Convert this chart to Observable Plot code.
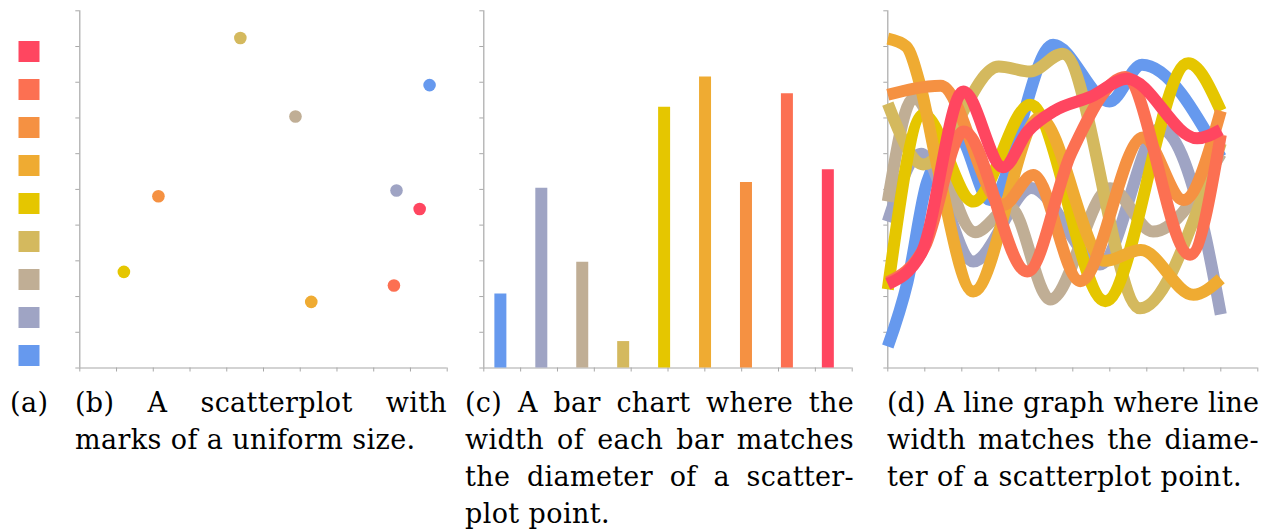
<!DOCTYPE html>
<html>
<head>
<meta charset="utf-8">
<script src="https://cdn.jsdelivr.net/npm/d3@7"></script>
<script src="https://cdn.jsdelivr.net/npm/@observablehq/plot@0.6"></script>
<style>
  body { margin: 0; background: #fff; }
  #fig { position: relative; width: 1274px; height: 529px; overflow: hidden; font-family: "DejaVu Serif", serif; }
  .panel { position: absolute; top: 0; }
  .cap { position: absolute; top: 384px; font-size: 27px; letter-spacing: 0.4px; line-height: 37px; color: #000; }
  .cap div { text-align: justify; text-align-last: justify; }
  .cap div.last { text-align-last: left; }
  .cap span.probe { white-space: nowrap; }
</style>
</head>
<body>
<div id="fig"></div>
<script>
// Categories, in drawing order (bottom of the legend first)
const categories = ["blue", "slate", "tan", "khaki", "yellow", "amber", "orange", "coral", "red"];
const colors = ["#6699ee", "#9fa4c4", "#c0ae95", "#d4b95e", "#e5c600", "#efab32", "#f59142", "#fc7052", "#ff4660"];

// (b) scatterplot positions
const scatterX = [9.52, 8.62, 5.87, 4.37, 1.20, 6.30, 2.14, 8.55, 9.25];
const scatterY = [7.92, 4.97, 7.04, 9.24, 2.69, 1.85, 4.81, 2.31, 4.45];

// (c) bar heights
const barValues = [2.07, 5.03, 2.96, 0.74, 7.30, 8.15, 5.19, 7.68, 5.55];

// (d) line series: [x, y] turning points of each curve
const lineBlue = [[0, 0.6], [0.53, 2.4], [1.06, 5.2], [1.9, 6.5], [2.76, 4.7], [4.47, 9.05], [5.99, 7.46], [6.87, 8.49], [9, 5.9]];
const lineSlate = [[0, 4.1], [0.9, 6.0], [2.31, 2.98], [3.88, 5.04], [5.73, 2.9], [7.36, 6.7], [8.54, 3.9], [9, 1.5]];
const lineTan = [[0, 4.66], [0.7, 7.55], [2.36, 3.8], [3.3, 4.5], [4.39, 1.92], [6.01, 5.03], [7.17, 3.82], [9, 6.0]];
const lineKhaki = [[0, 7.4], [0.96, 5.7], [3.0, 8.44], [3.85, 8.3], [4.73, 8.8], [6.82, 1.67], [8.54, 4.9], [9, 6.3]];
const lineYellow = [[0, 2.2], [0.96, 7.1], [2.31, 4.66], [3.85, 7.37], [5.88, 1.87], [8.12, 8.53], [9, 7.2]];
const lineAmber = [[0, 9.22], [0.5, 9.0], [0.88, 7.9], [1.35, 5.6], [2.31, 2.14], [4.1, 7.0], [5.87, 3.0], [6.84, 3.3], [8.26, 2.05], [9, 2.5]];
const lineOrange = [[0, 7.65], [1.43, 7.9], [3.12, 4.57], [3.93, 5.4], [5.2, 2.43], [6.9, 6.45], [7.99, 4.7], [9, 7.2]];
const lineCoral = [[0, 2.4], [1.0, 3.4], [2.05, 6.62], [3.77, 2.7], [4.95, 6.0], [6.42, 8.15], [8.17, 3.17], [9, 6.53]];
const lineRed = [[0, 2.35], [0.9, 3.2], [2.04, 7.74], [3.12, 5.62], [3.78, 6.62], [4.5, 7.2], [5.5, 7.6], [6.47, 8.1], [8.36, 6.43], [9, 6.67]];
const lineSeries = [lineBlue, lineSlate, lineTan, lineKhaki, lineYellow, lineAmber, lineOrange, lineCoral, lineRed];

// Axis ticks (unlabelled)
const axisTicks = [0, 1, 2, 3, 4, 5, 6, 7, 8, 9, 10];

// Captions, one entry per typeset line
const captionA = ["(a)"];
const captionB = ["(b) A scatterplot with", "marks of a uniform size."];
const captionC = ["(c) A bar chart where the", "width of each bar matches", "the diameter of a scatter-", "plot point."];
const captionD = ["(d) A line graph where line", "width matches the diame-", "ter of a scatterplot point."];

const fig = document.getElementById("fig");
const axisColor = "#a8a8a8";
const markSize = 12;
const color = {domain: categories, range: colors};

function place(node, left) {
  node.classList.add("panel");
  node.style.left = left + "px";
  fig.appendChild(node);
}

function axes() {
  return [
    Plot.ruleX([0], {stroke: axisColor, strokeWidth: 1.2}),
    Plot.ruleY([0], {stroke: axisColor, strokeWidth: 1.2}),
    Plot.axisX({ticks: axisTicks, tickFormat: () => "", tickSize: 4, stroke: axisColor, label: null}),
    Plot.axisY({ticks: axisTicks, tickFormat: () => "", tickSize: 4, stroke: axisColor, label: null})
  ];
}

const frame = {width: 400, height: 380, marginTop: 10.3, marginBottom: 12.5};

// (a) colour key
place(Plot.plot({
  width: 59, height: 380, marginLeft: 18, marginRight: 20, marginTop: 49, marginBottom: 23.7,
  y: {type: "point", domain: categories.slice().reverse(), padding: 0, axis: null},
  color,
  marks: [
    Plot.dot(categories, {y: d => d, fill: d => d, symbol: "square", r: 21 / Math.sqrt(Math.PI)})
  ]
}), 0);

// (b) scatterplot
const scatterData = categories.map((c, i) => ({c, x: scatterX[i], y: scatterY[i]}));
place(Plot.plot({
  ...frame, marginLeft: 20.3, marginRight: 12.3,
  x: {domain: [0, 10]}, y: {domain: [0, 10]}, color,
  marks: [
    ...axes(),
    Plot.dot(scatterData, {x: "x", y: "y", fill: "c", r: 6.3})
  ]
}), 59);

// (c) bar chart: fixed-width bars, one slot per category across the axis
const slot = 10 / categories.length;
const barData = categories.map((c, i) => ({c, x: (i + 0.405) * slot, v: barValues[i]}));
place(Plot.plot({
  ...frame, marginLeft: 19.3, marginRight: 12.3,
  x: {domain: [0, 10]}, y: {domain: [0, 10]}, color,
  marks: [
    ...axes(),
    Plot.ruleX(barData, {x: "x", y1: 0, y2: "v", stroke: "c", strokeWidth: markSize})
  ]
}), 464);

// (d) line graph
const lineData = lineSeries.flatMap((pts, i) => pts.map(([x, y]) => ({c: categories[i], x, y})));
place(Plot.plot({
  ...frame, marginLeft: 19.3, marginRight: 10.7,
  x: {domain: [0, 10]}, y: {domain: [0, 10]}, color,
  marks: [
    ...axes(),
    Plot.line(lineData, {x: "x", y: "y", z: "c", stroke: "c", strokeWidth: markSize,
      curve: "monotone-x", strokeLinejoin: "round", strokeLinecap: "butt"})
  ]
}), 868);

// Captions: each line is justified to the column; lines that would
// overflow get their letter spacing tightened so they stay on one row.
function caption(lines, left, width) {
  const div = document.createElement("div");
  div.className = "cap";
  div.style.left = left + "px";
  div.style.width = width + "px";
  fig.appendChild(div);
  lines.forEach((t, i) => {
    const row = document.createElement("div");
    if (i === lines.length - 1) row.className = "last";
    const probe = document.createElement("span");
    probe.className = "probe";
    probe.textContent = t;
    row.appendChild(probe);
    div.appendChild(row);
    const w = probe.getBoundingClientRect().width;
    if (w > width - 1) {
      const ls = 0.4 - (w - width + 2) / t.length;
      row.style.letterSpacing = ls + "px";
    }
    row.textContent = t;
  });
  return div;
}
caption(captionA, 10, 50);
caption(captionB, 75, 372);
caption(captionC, 465, 389);
caption(captionD, 887, 372);
</script>
</body>
</html>
